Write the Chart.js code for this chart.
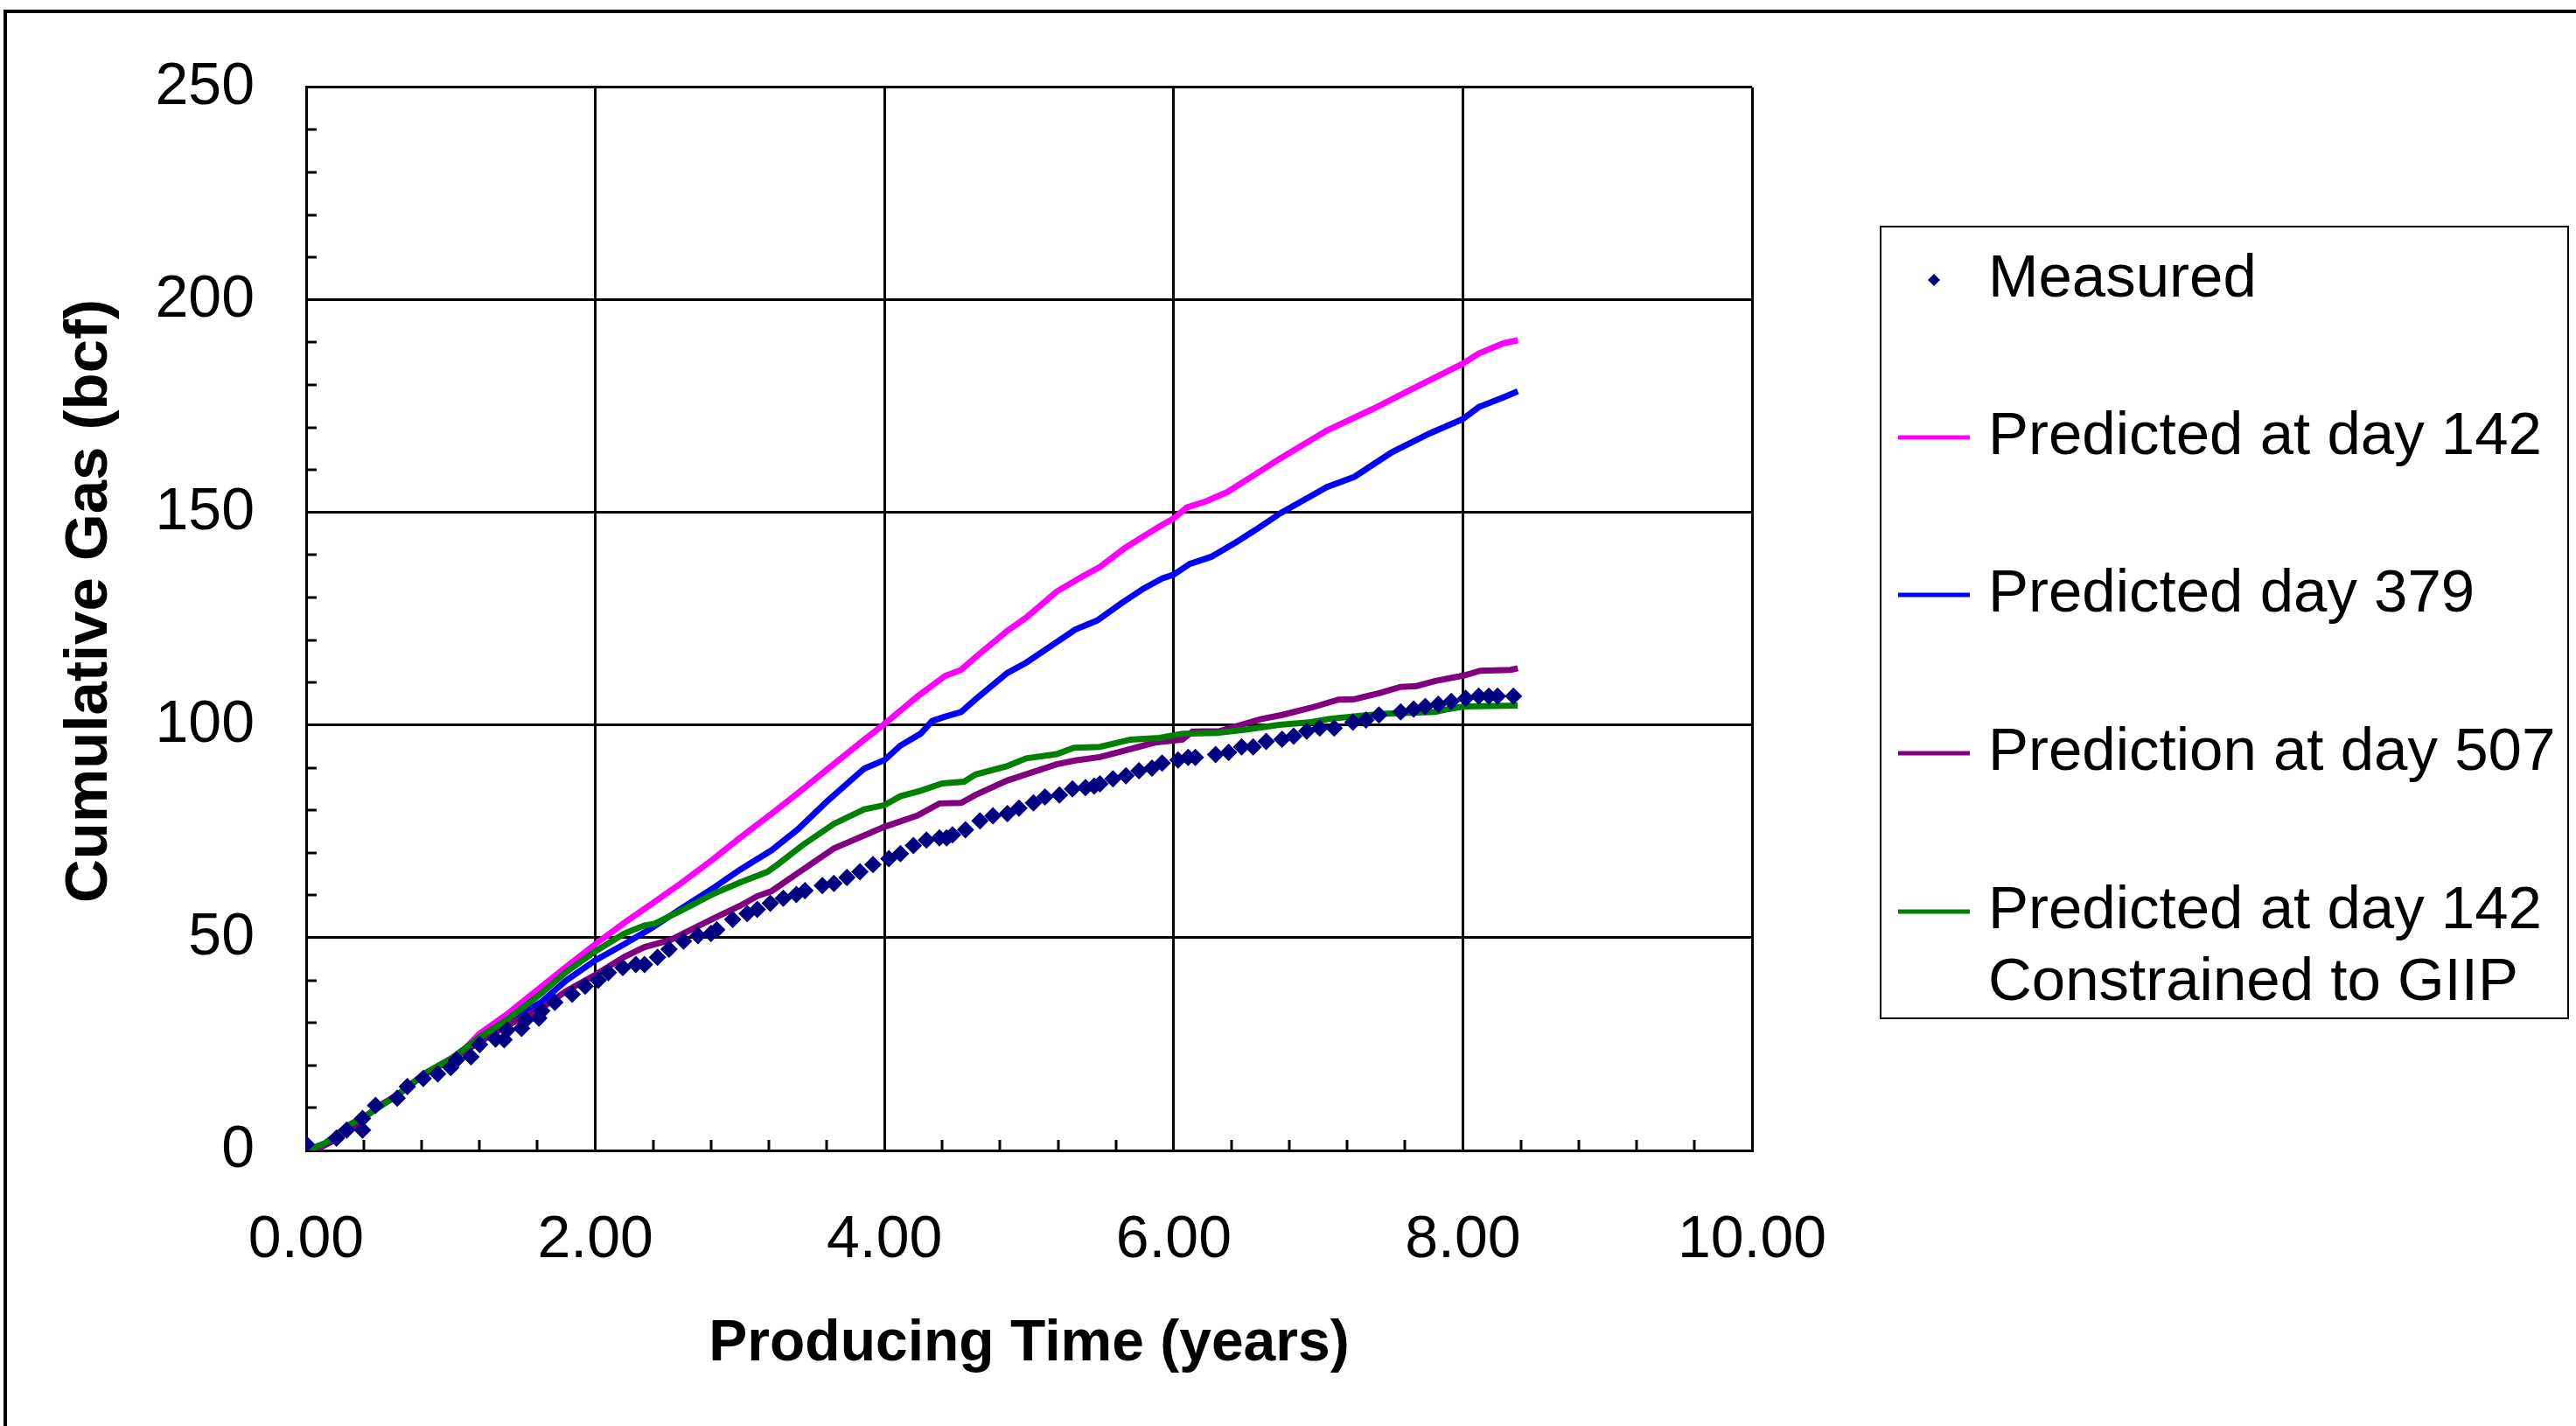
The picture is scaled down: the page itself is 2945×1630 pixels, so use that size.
<!DOCTYPE html>
<html>
<head>
<meta charset="utf-8">
<script src="https://cdn.jsdelivr.net/npm/chart.js@4/dist/chart.umd.min.js"></script>
<style>
html,body{margin:0;padding:0;background:#fff;}
canvas{display:block;}
</style>
</head>
<body>
<canvas id="c" width="2945" height="1630"></canvas>
<script>
// ---------- DATA ----------
const xTickValues = [0, 2, 4, 6, 8, 10];
const yTickValues = [0, 50, 100, 150, 200, 250];

const seriesLabels = [
  'Measured',
  'Predicted at day 142',
  'Predicted day 379',
  'Prediction at day 507',
  'Predicted at day 142\nConstrained to GIIP'
];

const measuredYears = [0.00,0.21,0.28,0.39,0.39,0.48,0.63,0.70,0.81,0.91,1.00,1.04,1.14,1.20,1.31,1.37,1.39,1.49,1.52,1.61,1.63,1.72,1.84,1.93,2.02,2.09,2.19,2.28,2.34,2.43,2.51,2.61,2.71,2.80,2.84,2.95,3.05,3.12,3.21,3.30,3.39,3.45,3.57,3.65,3.74,3.83,3.92,4.03,4.11,4.20,4.29,4.38,4.43,4.47,4.56,4.66,4.75,4.85,4.93,5.03,5.11,5.21,5.30,5.39,5.45,5.49,5.58,5.67,5.76,5.85,5.92,6.03,6.10,6.15,6.29,6.38,6.47,6.55,6.64,6.75,6.83,6.92,7.01,7.11,7.24,7.33,7.42,7.57,7.66,7.74,7.83,7.92,8.02,8.11,8.18,8.24,8.35];
const measuredGas   = [1.5,2.9,4.8,4.8,7.5,10.6,12.3,15.0,16.9,18.0,19.5,21.3,22.0,24.9,26.2,26.0,28.3,28.7,30.7,31.1,32.8,34.8,36.7,38.6,40.0,41.8,43.0,43.7,43.7,45.4,47.3,49.2,50.5,51.0,51.9,54.3,55.7,56.7,58.1,59.3,60.2,61.1,62.3,62.8,64.2,65.5,67.2,68.6,69.8,71.7,73.0,73.5,73.5,74.2,75.4,77.5,78.7,79.2,80.5,81.7,83.1,83.6,85.0,85.3,85.7,86.2,87.4,88.1,89.3,89.9,91.1,91.8,92.4,92.4,93.1,93.6,94.9,94.9,96.2,96.7,97.4,98.6,99.3,99.3,100.7,101.2,102.4,103.1,103.8,104.4,104.9,105.6,106.3,106.8,106.8,106.8,106.8];

const pred142Years = [0,0.10,0.20,0.30,0.43,0.50,0.63,0.82,1.00,1.10,1.20,1.40,1.63,1.80,2.00,2.20,2.39,2.60,2.82,3.00,3.22,3.40,3.60,3.86,4.00,4.23,4.42,4.53,4.63,4.85,4.98,5.19,5.36,5.49,5.66,5.79,5.92,6.00,6.09,6.22,6.37,6.57,6.74,7.06,7.38,7.64,8.00,8.11,8.28,8.38];
const pred142Gas   = [0,0.8,2.5,5.0,8.5,10.3,13.0,18.0,21.6,24.0,27.5,32.3,38.6,43.2,48.5,53.5,58.0,63.0,68.6,73.5,79.2,84.0,89.5,96.6,100.3,106.8,111.6,113.0,116.0,122.2,125.3,131.4,134.8,137.2,141.6,144.4,147.1,148.6,151.2,152.6,154.8,159.1,162.8,169.3,174.4,178.9,185.0,187.4,189.8,190.5];

const pred379Years = [0,0.10,0.20,0.30,0.43,0.50,0.63,0.82,1.00,1.10,1.20,1.40,1.63,1.80,2.00,2.20,2.39,2.60,2.82,3.00,3.22,3.40,3.60,3.86,4.00,4.11,4.25,4.33,4.42,4.53,4.63,4.85,4.98,5.32,5.47,5.64,5.79,5.92,6.00,6.11,6.26,6.43,6.57,6.74,7.06,7.25,7.51,7.77,8.00,8.11,8.28,8.38];
const pred379Gas   = [0,0.8,2.5,5.0,8.5,10.3,13.0,18.0,21.5,23.5,26.0,30.2,35.0,40.0,44.7,48.5,52.3,57.0,61.8,66.0,70.6,75.5,82.0,89.8,91.8,95.2,98.0,101.0,102.0,103.1,106.1,112.3,114.7,122.5,124.6,128.7,132.1,134.5,135.4,137.9,139.6,143.0,146.0,149.9,156.0,158.4,164.2,168.6,172.0,174.8,177.1,178.5];

const pred507Years = [0,0.10,0.20,0.30,0.43,0.50,0.63,0.82,1.00,1.20,1.40,1.63,1.80,2.00,2.20,2.34,2.52,2.82,3.00,3.12,3.22,3.43,3.65,4.00,4.23,4.38,4.53,4.63,4.85,5.19,5.32,5.49,5.60,5.79,5.87,6.06,6.13,6.32,6.45,6.60,6.75,6.95,7.14,7.25,7.42,7.57,7.68,7.81,8.01,8.12,8.33,8.38];
const pred507Gas   = [0,0.8,2.5,5.0,8.5,10.3,13.0,18.0,21.3,25.5,29.5,33.5,37.5,41.3,45.5,47.8,49.5,54.6,57.5,59.8,61.0,65.9,71.0,76.1,78.8,81.6,81.7,83.6,87.0,90.8,91.7,92.5,93.5,95.2,95.9,96.6,98.5,98.6,99.9,101.4,102.4,104.1,106.0,106.1,107.5,109.0,109.2,110.4,111.7,112.8,113.0,113.4];

const giipYears = [0,0.13,0.30,0.43,0.63,0.82,1.00,1.20,1.40,1.63,1.80,2.00,2.20,2.34,2.41,2.60,2.82,3.00,3.19,3.26,3.43,3.65,3.86,4.00,4.11,4.25,4.40,4.55,4.63,4.85,4.98,5.19,5.31,5.49,5.70,5.90,6.06,6.30,6.51,6.73,6.95,7.08,7.29,7.47,7.81,7.90,8.01,8.38];
const giipGas   = [0,1.7,6.1,8.5,13.0,18.1,21.5,26.6,31.0,37.0,42.0,46.8,51.0,52.9,53.3,56.5,60.4,63.0,65.5,67.2,71.7,76.8,80.2,81.2,83.3,84.6,86.3,86.7,88.4,90.4,92.2,93.2,94.7,94.9,96.6,97.0,98.0,98.2,99.0,100.1,100.7,101.5,102.2,102.7,103.1,103.8,104.4,104.6];

// ---------- CHART ----------
const FONT = '"Liberation Sans", Arial, Helvetica, sans-serif';
const pts = (xs, ys) => xs.map((x, i) => ({x: x, y: ys[i]}));

const framePlugin = {
  id: 'frame',
  beforeDraw(chart) {
    const ctx = chart.ctx;
    ctx.save();
    ctx.fillStyle = '#fff';
    ctx.fillRect(0, 0, chart.width, chart.height);
    ctx.strokeStyle = '#000';
    ctx.lineWidth = 4;
    ctx.beginPath();
    ctx.moveTo(6, chart.height + 10);
    ctx.lineTo(6, 13);
    ctx.lineTo(chart.width + 10, 13);
    ctx.stroke();
    ctx.restore();
  }
};

const minorTickPlugin = {
  id: 'minorTicks',
  beforeDatasetsDraw(chart) {
    const ctx = chart.ctx;
    const xs = chart.scales.x, ys = chart.scales.y;
    const a = chart.chartArea;
    ctx.save();
    ctx.strokeStyle = '#000';
    ctx.lineWidth = 3;
    ctx.beginPath();
    for (let v = 0.4; v < 10; v += 0.4) {
      if (Math.abs(v / 2 - Math.round(v / 2)) < 1e-6) continue;
      const px = Math.round(xs.getPixelForValue(v));
      ctx.moveTo(px, a.bottom);
      ctx.lineTo(px, a.bottom - 12);
    }
    for (let v = 10; v < 250; v += 10) {
      if (v % 50 === 0) continue;
      const py = Math.round(ys.getPixelForValue(v));
      ctx.moveTo(a.left, py);
      ctx.lineTo(a.left + 12, py);
    }
    ctx.stroke();
    ctx.restore();
  }
};

const yTitlePlugin = {
  id: 'yTitle',
  afterDraw(chart) {
    const ctx = chart.ctx;
    ctx.save();
    ctx.translate(103, 687);
    ctx.rotate(-Math.PI / 2);
    ctx.font = 'bold 69px ' + FONT;
    ctx.fillStyle = '#000';
    ctx.textAlign = 'center';
    ctx.textBaseline = 'middle';
    ctx.fillText(chart.options.scales.y.title.text, 0, 0);
    ctx.restore();
  }
};

const legendPlugin = {
  id: 'boxLegend',
  afterDraw(chart) {
    const ctx = chart.ctx;
    ctx.save();
    ctx.strokeStyle = '#000';
    ctx.lineWidth = 2;
    ctx.strokeRect(2150, 259, 786, 905);
    ctx.font = '69px ' + FONT;
    ctx.fillStyle = '#000';
    ctx.textBaseline = 'middle';
    ctx.textAlign = 'left';
    const rowY = [320, 500, 680, 861, 1042];
    chart.data.datasets.forEach((ds, i) => {
      const y = rowY[i];
      if (ds.showLine === false) {
        ctx.fillStyle = ds.backgroundColor;
        ctx.beginPath();
        ctx.moveTo(2211, y - 7);
        ctx.lineTo(2218, y);
        ctx.lineTo(2211, y + 7);
        ctx.lineTo(2204, y);
        ctx.closePath();
        ctx.fill();
      } else {
        ctx.strokeStyle = ds.borderColor;
        ctx.lineWidth = 5;
        ctx.beginPath();
        ctx.moveTo(2170, y);
        ctx.lineTo(2252, y);
        ctx.stroke();
      }
      ctx.fillStyle = '#000';
      ds.label.split('\n').forEach((line, k) => {
        ctx.fillText(line, 2273, y + k * 82);
      });
    });
    ctx.restore();
  }
};

const lineDs = (label, xs, ys, color, order) => ({
  label: label,
  data: pts(xs, ys),
  showLine: true,
  borderColor: color,
  backgroundColor: color,
  borderWidth: 7,
  pointRadius: 0,
  tension: 0,
  order: order
});

new Chart(document.getElementById('c'), {
  type: 'scatter',
  data: {
    datasets: [
      {
        label: seriesLabels[0],
        data: pts(measuredYears, measuredGas),
        showLine: false,
        pointStyle: 'rectRot',
        pointRadius: 10,
        borderWidth: 0,
        backgroundColor: '#000080',
        borderColor: '#000080',
        order: 0
      },
      lineDs(seriesLabels[1], pred142Years, pred142Gas, '#FF00FF', 4),
      lineDs(seriesLabels[2], pred379Years, pred379Gas, '#0000FF', 3),
      lineDs(seriesLabels[3], pred507Years, pred507Gas, '#800080', 2),
      lineDs(seriesLabels[4], giipYears, giipGas, '#008000', 1)
    ]
  },
  options: {
    responsive: false,
    animation: false,
    devicePixelRatio: 1,
    layout: {padding: {left: 0, top: 95, right: 942, bottom: 0}},
    plugins: {legend: {display: false}, tooltip: {enabled: false}},
    scales: {
      x: {
        type: 'linear', position: 'bottom', min: 0, max: 10,
        afterFit(s) { s.height = 315; },
        afterBuildTicks(s) { s.ticks = xTickValues.map(v => ({value: v})); },
        ticks: {
          padding: 62, color: '#000', autoSkip: false, maxRotation: 0,
          font: {family: FONT, size: 68},
          callback: v => Number(v).toFixed(2)
        },
        grid: {color: '#000', lineWidth: 3, drawTicks: false},
        border: {color: '#000', width: 3},
        title: {
          display: true, text: 'Producing Time (years)', color: '#000',
          font: {family: FONT, size: 66, weight: 'bold'},
          padding: {top: 0, bottom: 54}
        }
      },
      y: {
        type: 'linear', position: 'left', min: 0, max: 250,
        afterFit(s) { s.width = 350; },
        afterBuildTicks(s) { s.ticks = yTickValues.map(v => ({value: v})); },
        ticks: {
          padding: 59, color: '#000', autoSkip: false,
          font: {family: FONT, size: 68},
          callback: v => String(v)
        },
        grid: {color: '#000', lineWidth: 3, drawTicks: false},
        border: {color: '#000', width: 3},
        title: {
          display: false, text: 'Cumulative Gas (bcf)', color: '#000',
          font: {family: FONT, size: 69, weight: 'bold'}
        }
      }
    }
  },
  plugins: [framePlugin, minorTickPlugin, yTitlePlugin, legendPlugin]
});
</script>
</body>
</html>
